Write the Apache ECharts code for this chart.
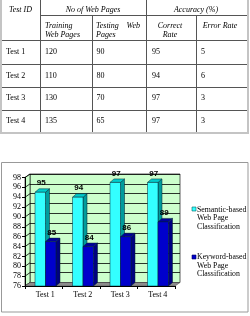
<!DOCTYPE html>
<html>
<head>
<meta charset="utf-8">
<script src="https://cdn.jsdelivr.net/npm/echarts@6/dist/echarts.min.js"></script>
<style>
  html, body { margin: 0; padding: 0; background: #fff; }
  #wrap { position: relative; width: 250px; height: 316px; overflow: hidden; }
  #chart { position: absolute; left: 0; top: 0; width: 250px; height: 316px; }
  .t { position: absolute; font-family: "Liberation Serif", "Times New Roman", serif; font-size: 8px; line-height: 10px; height: 10px; white-space: nowrap; color: #000; }
  .i { font-style: italic; }
  .c { transform: translateX(-50%); }
  .r { transform: translateX(-100%); }
  .ln { position: absolute; background: #555; }
  .lg { position: absolute; background: #c4c4c4; }
</style>
</head>
<body>
<div id="wrap">
  <div id="chart"></div>
  <div id="table"></div>
</div>
<script>
// ---------- data ----------
var tableHeaders = ["Test ID", "No of Web Pages", "Accuracy (%)"];
var subHeaders = ["Training Web Pages", "Testing Web Pages", "Correct Rate", "Error Rate"];
var testIds = ["Test 1", "Test 2", "Test 3", "Test 4"];
var trainingPages = [120, 110, 130, 135];
var testingPages = [90, 80, 70, 65];
var correctRate = [95, 94, 97, 97];
var errorRate = [5, 6, 3, 3];

var categories = ["Test 1", "Test 2", "Test 3", "Test 4"];
var semanticValues = [95, 94, 97, 97];
var keywordValues = [85, 84, 86, 89];
var seriesNames = ["Semantic-based\nWeb Page\nClassification", "Keyword-based\nWeb Page\nClassification"];
var yMin = 76, yMax = 98, yStep = 2;

// ---------- table (HTML) ----------
(function () {
  var tb = document.getElementById('table');
  var h = '';
  function txt(s, x, y, cls) {
    h += '<div class="t ' + (cls || '') + '" style="left:' + x + 'px;top:' + (y - 5) + 'px">' + s + '</div>';
  }
  function hl(x1, x2, y, light) {
    h += '<div class="' + (light ? 'lg' : 'ln') + '" style="left:' + x1 + 'px;top:' + y + 'px;width:' + (x2 - x1) + 'px;height:' + (light ? 2 : 1) + 'px"></div>';
  }
  function vl(x, y1, y2, light) {
    h += '<div class="' + (light ? 'lg' : 'ln') + '" style="left:' + x + 'px;top:' + y1 + 'px;width:' + (light ? 2 : 1) + 'px;height:' + (y2 - y1) + 'px"></div>';
  }
  // lines
  vl(0, 0, 134, true);
  vl(247, 0, 134, true);
  hl(0, 249, 132, true);
  vl(40, 0, 132); vl(146, 0, 132);
  vl(92, 15, 132); vl(196, 15, 132);
  hl(40, 247, 15);
  hl(2, 247, 40); hl(2, 247, 64); hl(2, 247, 87); hl(2, 247, 110);
  // headers
  txt(tableHeaders[0], 20.5, 10, 'i c');
  txt(tableHeaders[1], 93, 10, 'i c');
  txt(tableHeaders[2], 196, 10, 'i c');
  var sh0 = subHeaders[0].split(' ');
  txt(sh0[0], 45, 26, 'i');
  txt(sh0[1] + ' ' + sh0[2], 45, 35, 'i');
  var sh1 = subHeaders[1].split(' ');
  txt(sh1[0], 96, 26, 'i');
  txt(sh1[1], 140, 26, 'i r');
  txt(sh1[2], 96, 35, 'i');
  var sh2 = subHeaders[2].split(' ');
  txt(sh2[0], 170, 26, 'i c');
  txt(sh2[1], 170, 35, 'i c');
  txt(subHeaders[3], 220, 26, 'i c');
  var rowCy = [52, 76, 98, 121];
  for (var r = 0; r < testIds.length; r++) {
    txt(testIds[r], 6, rowCy[r]);
    txt(trainingPages[r], 45, rowCy[r]);
    txt(testingPages[r], 96.5, rowCy[r]);
    txt(correctRate[r], 152, rowCy[r]);
    txt(errorRate[r], 201, rowCy[r]);
  }
  tb.innerHTML = h;
})();

// ---------- chart ----------
var DX = 5, DY = -3.5;        // wall depth
var BDX = 4, BDY = -3.5;      // bar depth
var front = { left: 25, right: 75, top: 177.5, bottom: 30 };

var chart = echarts.init(document.getElementById('chart'), null, { renderer: 'canvas' });

function barRender(offsetFrac, colors) {
  return function (params, api) {
    var idx = api.value(0), val = api.value(1);
    var top = api.coord([idx, val]);
    var base = api.coord([idx, yMin]);
    var bw = api.size([1, 0])[0];
    var w = bw * 0.28;
    var x0 = top[0] + offsetFrac * bw;
    var yT = top[1], yB = base[1];
    var stroke = { stroke: '#002030', lineWidth: 0.5 };
    return {
      type: 'group',
      children: [
        { type: 'polygon', shape: { points: [[x0 + w, yT], [x0 + w + BDX, yT + BDY], [x0 + w + BDX, yB + BDY], [x0 + w, yB]] },
          style: Object.assign({ fill: colors[1] }, stroke) },
        { type: 'polygon', shape: { points: [[x0, yT], [x0 + BDX, yT + BDY], [x0 + w + BDX, yT + BDY], [x0 + w, yT]] },
          style: Object.assign({ fill: colors[2] }, stroke) },
        { type: 'rect', shape: { x: x0, y: yT, width: w, height: yB - yT },
          style: Object.assign({ fill: colors[0] }, stroke) },
        { type: 'text', style: { text: String(val), x: x0 + w / 2 + 1, y: yT - 9, align: 'center', verticalAlign: 'middle',
          font: 'bold 8px "Liberation Sans", Arial, sans-serif', fill: '#000' } }
      ]
    };
  };
}

function wallRender(params, api) {
  var bw = api.size([1, 0])[0];
  var c0 = api.coord([0, yMin]);
  var left = c0[0] - bw / 2;
  var right = left + bw * categories.length;
  var yB = c0[1];
  var yT = api.coord([0, yMax])[1];
  var children = [];
  children.push({ type: 'polygon', shape: { points: [[left, yT], [left + DX, yT + DY], [left + DX, yB + DY], [left, yB]] },
    style: { fill: '#CCFFCC', stroke: '#000', lineWidth: 0.6 } });
  for (var v = yMin; v <= yMax; v += yStep) {
    var y = api.coord([0, v])[1];
    children.push({ type: 'line', shape: { x1: left, y1: y, x2: left + DX, y2: y + DY }, style: { stroke: '#000', lineWidth: 0.8 } });
  }
  children.push({ type: 'polygon', shape: { points: [[left, yB], [left + DX, yB + DY], [right + DX, yB + DY], [right, yB]] },
    style: { fill: '#8c8c8c', stroke: '#555', lineWidth: 0.6 } });
  return { type: 'group', children: children };
}

var serif = '"Liberation Serif", "Times New Roman", serif';

chart.setOption({
  animation: false,
  backgroundColor: 'transparent',
  grid: [
    { left: front.left + DX, right: front.right - DX, top: front.top + DY, bottom: front.bottom - DY,
      show: true, backgroundColor: '#CCFFCC', borderColor: '#333', borderWidth: 0.8 },
    { left: front.left, right: front.right, top: front.top, bottom: front.bottom }
  ],
  xAxis: [
    { gridIndex: 0, type: 'category', data: categories, show: false },
    { gridIndex: 1, type: 'category', data: categories, z: 10,
      axisLine: { lineStyle: { color: '#000', width: 1 } },
      axisTick: { show: true, length: 3, lineStyle: { color: '#000' } },
      axisLabel: { fontFamily: serif, fontSize: 8, color: '#000', margin: 5, padding: [0, 0, 0, 3] } }
  ],
  yAxis: [
    { gridIndex: 0, type: 'value', min: yMin, max: yMax, interval: yStep,
      axisLine: { show: false }, axisTick: { show: false }, axisLabel: { show: false },
      splitLine: { show: true, lineStyle: { color: '#000', width: 0.8 } } },
    { gridIndex: 1, type: 'value', min: yMin, max: yMax, interval: yStep, z: 10,
      axisLine: { show: true, lineStyle: { color: '#000', width: 1 } },
      axisTick: { show: true, length: 3, lineStyle: { color: '#000' } },
      axisLabel: { fontFamily: serif, fontSize: 8, color: '#000', margin: 4 },
      splitLine: { show: false } }
  ],
  series: [
    { type: 'custom', name: 'walls', xAxisIndex: 1, yAxisIndex: 1, z: 1, silent: true,
      data: [[0, yMin]], renderItem: wallRender },
    { type: 'custom', name: seriesNames[0], xAxisIndex: 1, yAxisIndex: 1, z: 2,
      data: semanticValues.map(function (v, i) { return [i, v]; }),
      renderItem: barRender(-0.233, ['#33FFFF', '#009C9C', '#00CCCC']) },
    { type: 'custom', name: seriesNames[1], xAxisIndex: 1, yAxisIndex: 1, z: 3,
      data: keywordValues.map(function (v, i) { return [i, v]; }),
      renderItem: barRender(0.047, ['#0000CC', '#000080', '#00009A']) }
  ],
  graphic: [
    { type: 'rect', shape: { x: 1.5, y: 162.5, width: 246.5, height: 149.5 }, style: { fill: 'none', stroke: '#999', lineWidth: 1 }, z: 0 },
    { type: 'rect', shape: { x: 192, y: 207, width: 4, height: 4 }, style: { fill: '#33FFFF', stroke: '#006666', lineWidth: 0.6 } },
    { type: 'text', x: 197, y: 205.5, style: { text: seriesNames[0], font: '7.8px ' + serif, lineHeight: 8.5, fill: '#000', verticalAlign: 'top' } },
    { type: 'rect', shape: { x: 192, y: 255, width: 4, height: 4 }, style: { fill: '#0000CC', stroke: '#000060', lineWidth: 0.6 } },
    { type: 'text', x: 197, y: 253, style: { text: seriesNames[1], font: '7.8px ' + serif, lineHeight: 8.5, fill: '#000', verticalAlign: 'top' } }
  ]
});
</script>
</body>
</html>
